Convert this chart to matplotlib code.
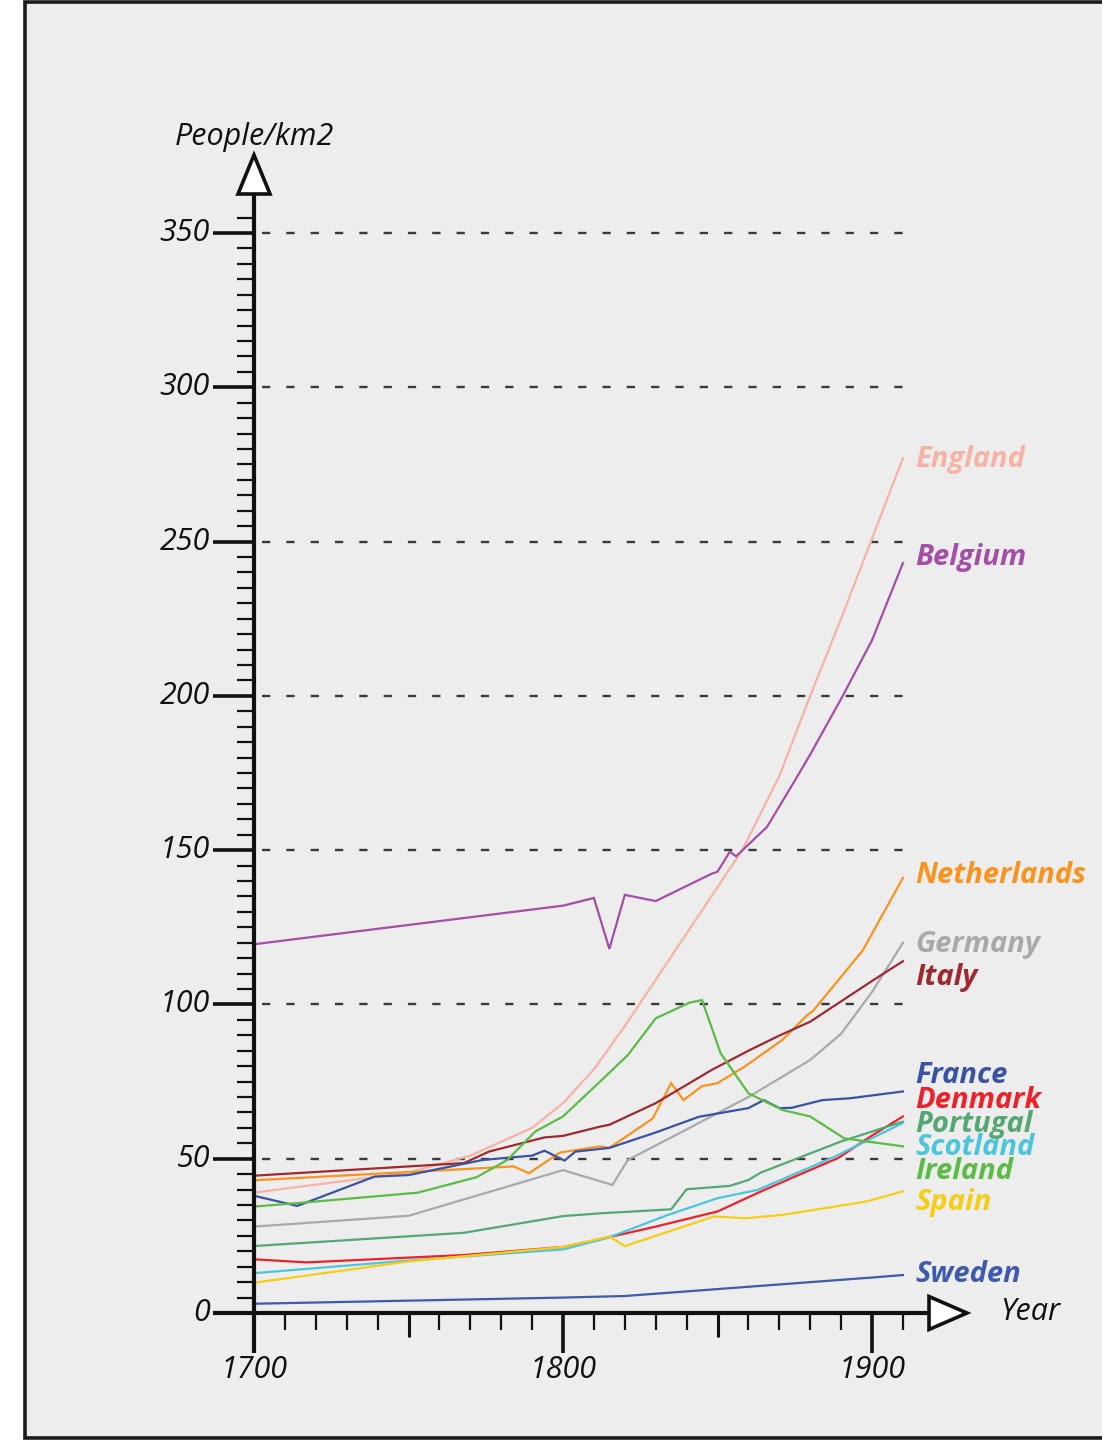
import matplotlib
matplotlib.use("Agg")
import matplotlib.pyplot as plt
from matplotlib.patches import Polygon, Rectangle

# population density, people per km2
england_years = [1700, 1750, 1770, 1790, 1800, 1810, 1820, 1830, 1840, 1850, 1858, 1870, 1880, 1890, 1900, 1910]
england_vals = [39, 45.5, 51, 60, 68, 79, 93, 108, 123, 138, 150, 174, 200, 225, 251, 277]

belgium_years = [1700, 1800, 1810, 1815, 1820, 1830, 1848, 1850, 1854, 1856, 1866, 1875, 1880, 1890, 1900, 1910]
belgium_vals = [119.5, 132, 134.5, 118, 135.5, 133.5, 142.3, 143, 149.5, 148, 157.5, 172.5, 181, 199, 218, 243]

netherlands_years = [1700, 1784, 1789, 1799, 1812, 1815, 1829, 1835, 1839, 1845, 1850, 1859, 1871, 1879, 1881, 1897, 1910]
netherlands_vals = [43, 47.5, 45.3, 52, 54, 53.5, 63, 74.5, 69, 73.5, 74.5, 80, 88.5, 96.5, 98, 117.5, 141]

germany_years = [1700, 1750, 1800, 1816, 1821, 1840, 1860, 1880, 1890, 1900, 1910]
germany_vals = [28, 31.5, 46.3, 41.5, 49.6, 59.5, 70, 82, 90.5, 104, 120]

italy_years = [1700, 1750, 1768, 1776, 1794, 1800, 1812, 1815, 1830, 1848, 1860, 1870, 1880, 1890, 1900, 1910]
italy_vals = [44.5, 47.5, 48.6, 52.3, 56.9, 57.4, 60.4, 61, 68, 78.7, 85, 89.9, 94.4, 101, 107.6, 114]

france_years = [1700, 1714, 1739, 1750, 1774, 1790, 1794, 1800.5, 1804, 1815, 1830, 1844, 1860, 1865, 1870, 1874, 1884, 1893, 1910]
france_vals = [38, 34.7, 44.2, 44.7, 49.6, 51, 52.6, 49.4, 52.3, 53.5, 58.5, 63.6, 66.4, 69, 66.4, 66.5, 69, 69.6, 71.8]

denmark_years = [1700, 1717, 1768, 1800, 1812, 1830, 1850, 1863, 1875, 1889, 1900, 1910]
denmark_vals = [17.4, 16.4, 18.8, 21.4, 23.9, 28, 32.9, 38.9, 44.2, 50.2, 57.5, 63.7]

portugal_years = [1700, 1768, 1800, 1812, 1835, 1840, 1854, 1860, 1864, 1890, 1910]
portugal_vals = [21.7, 26, 31.4, 32.3, 33.6, 40.1, 41.2, 43.1, 45.5, 55.6, 62]

scotland_years = [1700, 1750, 1800, 1812, 1817, 1834, 1850, 1863, 1888, 1910]
scotland_vals = [12.9, 17, 20.6, 23.7, 25.3, 31.8, 37.2, 39.9, 50.7, 61.6]

ireland_years = [1700, 1714, 1753, 1772, 1782, 1791, 1800, 1812, 1821, 1830, 1841, 1845, 1851, 1860, 1871, 1880, 1891, 1910]
ireland_vals = [34.5, 35.6, 39, 44, 49.6, 58.8, 63.7, 75, 83.6, 95.5, 100.6, 101.4, 84.2, 71.2, 65.8, 63.7, 56.6, 54]

spain_years = [1700, 1750, 1800, 1815, 1820, 1849, 1859, 1871, 1898, 1910]
spain_vals = [9.8, 16.7, 21.4, 24.8, 21.7, 31.3, 30.7, 31.8, 36.1, 39.4]

sweden_years = [1700, 1750, 1800, 1820, 1840, 1860, 1880, 1900, 1910]
sweden_vals = [3, 4, 5, 5.5, 7, 8.5, 10, 11.5, 12.3]

countries = ["England", "Belgium", "Netherlands", "Germany", "Italy", "France",
             "Denmark", "Portugal", "Scotland", "Ireland", "Spain", "Sweden"]
series = [
    (england_years, england_vals), (belgium_years, belgium_vals),
    (netherlands_years, netherlands_vals), (germany_years, germany_vals),
    (italy_years, italy_vals), (france_years, france_vals),
    (denmark_years, denmark_vals), (portugal_years, portugal_vals),
    (scotland_years, scotland_vals), (ireland_years, ireland_vals),
    (spain_years, spain_vals), (sweden_years, sweden_vals),
]
colors = ["#f7b2a6", "#a54ea6", "#f7931e", "#a8a9ad", "#9e2a2f", "#3953a4",
          "#ed2129", "#55a774", "#4cc5dc", "#5cbb46", "#f6cd16", "#3e5bad"]
# baselines of the end labels (data units), stacked like the original
label_base = [274.3, 242.4, 139.3, 117, 106.3, 74.6, 66.4, 58.7, 51.2, 43.4, 33.4, 10.1]

y_major = [0, 50, 100, 150, 200, 250, 300, 350]
x_major = [1700, 1800, 1900]

# pixel -> data helpers (reference is 1102x1440, 1700 at x=254, 1900 at x=872, 0 at y=1313, 350 at y=233)
XS = (872 - 254) / 200.0
YS = (1313 - 233) / 350.0


def X(px):
    return 1700 + (px - 254) / XS


def Y(py):
    return (1313 - py) / YS


BG = "#ecedec"
INK = "#111111"
TICK_FS = 22

fig = plt.figure(figsize=(11.02, 14.40), dpi=100, facecolor="white")
fig.patches.append(Rectangle((24.5 / 1102, 2 / 1440), 1.1, 1436.5 / 1440, transform=fig.transFigure,
                             facecolor=BG, edgecolor="#1c1c1c", linewidth=2.6, zorder=-5))
ax = fig.add_axes([0, 0, 1, 1], zorder=2)
ax.set_xlim(X(0), X(1102))
ax.set_ylim(Y(1440), Y(0))
ax.axis("off")

# dashed grid
for v in y_major[1:]:
    ax.plot([X(262), X(906)], [v, v], color="#3a3a3a", lw=1.7, dashes=(3.5, 6.8), zorder=1)

# data lines
for (yrs, vals), c in zip(series, colors):
    ax.plot(yrs, vals, color=c, lw=1.6, zorder=3, solid_joinstyle="miter")

# end labels
for name, c, yb in zip(countries, colors, label_base):
    ax.text(X(915), yb, name, color=c, fontsize=21, fontweight="bold", fontstyle="italic",
            family="Open Sans", ha="left", va="baseline", zorder=4)

# axes lines
ax.plot([1700, 1700], [Y(1353), Y(195)], color=INK, lw=3, solid_capstyle="butt", zorder=5)
ax.plot([X(213), X(929)], [0, 0], color=INK, lw=3, solid_capstyle="butt", zorder=5)

# y ticks
for v in range(5, 360, 5):
    if v % 50 == 0:
        ax.plot([X(213), 1700], [v, v], color=INK, lw=2.6, solid_capstyle="butt", zorder=5)
    else:
        ax.plot([X(237), 1700], [v, v], color=INK, lw=1.6, solid_capstyle="butt", zorder=5)
for v in y_major:
    ax.text(X(210), v, str(v), fontsize=TICK_FS, fontstyle="italic", family="Open Sans",
            ha="right", va="center", color=INK, zorder=5)

# x ticks
for yr in range(1710, 1920, 10):
    if yr % 100 == 0:
        length, w = 40, 2.6
    elif yr % 50 == 0:
        length, w = 24, 2.2
    else:
        length, w = 17, 1.6
    ax.plot([yr, yr], [0, Y(1313 + length)], color=INK, lw=w, solid_capstyle="butt", zorder=5)
for yr in x_major:
    ax.text(yr, Y(1370), str(yr), fontsize=TICK_FS, fontstyle="italic", family="Open Sans",
            ha="center", va="center", color=INK, zorder=5)

# arrow heads
ax.add_patch(Polygon([(X(238), Y(194)), (X(270), Y(194)), (1700, Y(155))], closed=True,
                     facecolor="white", edgecolor=INK, lw=2.6, joinstyle="miter", zorder=6))
ax.add_patch(Polygon([(X(929), Y(1296.5)), (X(929), Y(1329.5)), (X(967), 0)], closed=True,
                     facecolor="white", edgecolor=INK, lw=2.6, joinstyle="miter", zorder=6))

ax.text(1700, Y(145), "People/km2", fontsize=TICK_FS, fontstyle="italic", family="Open Sans",
        ha="center", va="baseline", color=INK)
ax.text(X(1000), Y(1312), "Year", fontsize=TICK_FS, fontstyle="italic", family="Open Sans",
        ha="left", va="center", color=INK)

fig.savefig("out.png", dpi=100, facecolor=fig.get_facecolor())
